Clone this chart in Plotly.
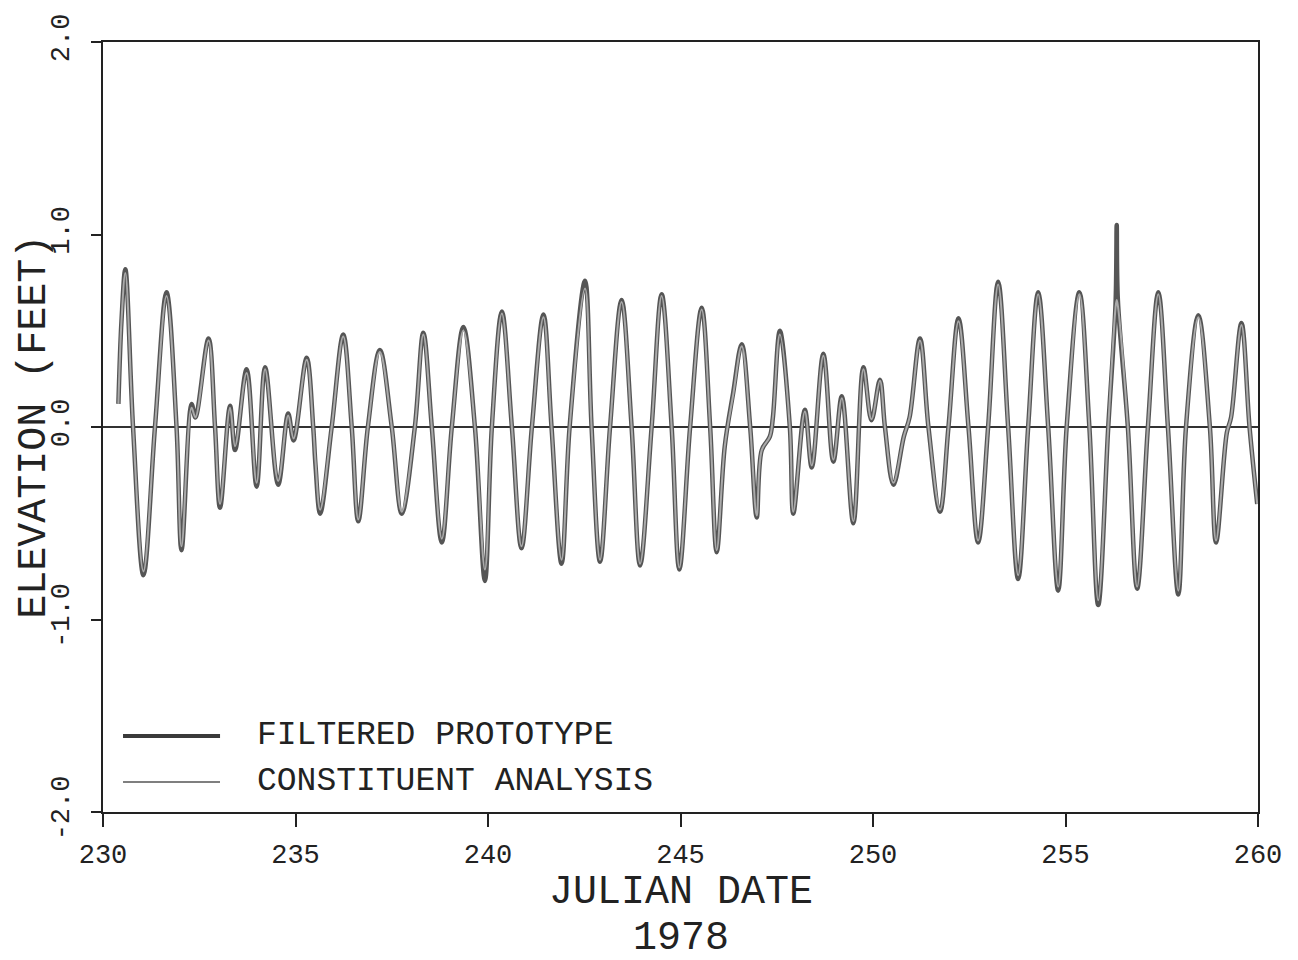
import plotly.graph_objects as go

# julian day (1978) of each turning point / zero crossing
julian_day = [
    230.40, 230.48, 230.58, 230.78, 231.05, 231.35, 231.65, 231.91, 232.04, 232.30,
    232.40, 232.74, 232.91, 233.04, 233.30, 233.43, 233.73, 233.99, 234.21, 234.55,
    234.81, 234.95, 235.29, 235.46, 235.52, 235.64, 235.94, 236.24, 236.46, 236.63,
    236.88, 237.19, 237.50, 237.76, 238.10, 238.32, 238.54, 238.80, 239.06, 239.36,
    239.66, 239.92, 240.10, 240.36, 240.62, 240.87, 241.14, 241.44, 241.65, 241.91,
    242.12, 242.52, 242.69, 242.91, 243.17, 243.47, 243.73, 243.95, 244.25, 244.51,
    244.77, 244.97, 245.25, 245.55, 245.77, 245.94, 246.15, 246.37, 246.59, 246.81,
    246.98, 247.11, 247.32, 247.40, 247.58, 247.84, 247.93, 248.23, 248.41, 248.71,
    248.97, 249.19, 249.49, 249.75, 249.96, 250.18, 250.31, 250.53, 250.80, 250.95,
    251.22, 251.44, 251.74, 251.96, 252.22, 252.48, 252.73, 252.99, 253.25, 253.51,
    253.77, 254.03, 254.29, 254.55, 254.81, 255.03, 255.36, 255.62, 255.85, 256.11,
    256.30, 256.33, 256.36, 256.62, 256.86, 257.14, 257.41, 257.66, 257.93, 258.13,
    258.45, 258.75, 258.91, 259.19, 259.30, 259.57, 259.78, 259.98,
]

filtered_ft = [
    0.12, 0.55, 0.82, 0.00, -0.77, 0.00, 0.70, 0.00, -0.64, 0.12,
    0.05, 0.46, 0.00, -0.42, 0.11, -0.12, 0.30, -0.31, 0.31, -0.30,
    0.07, -0.07, 0.36, 0.00, -0.20, -0.45, 0.00, 0.48, 0.00, -0.49,
    0.00, 0.40, 0.00, -0.45, 0.00, 0.49, 0.00, -0.60, 0.00, 0.52,
    0.00, -0.80, 0.00, 0.60, 0.00, -0.63, 0.00, 0.585, 0.00, -0.71,
    0.00, 0.76, 0.00, -0.70, 0.00, 0.66, 0.00, -0.72, 0.00, 0.69,
    0.00, -0.74, 0.00, 0.62, 0.00, -0.65, -0.10, 0.18, 0.43, 0.00,
    -0.47, -0.12, -0.05, 0.05, 0.50, 0.00, -0.45, 0.09, -0.21, 0.38,
    -0.18, 0.16, -0.50, 0.31, 0.035, 0.245, 0.00, -0.30, -0.05, 0.05,
    0.46, 0.00, -0.44, 0.00, 0.565, 0.00, -0.60, 0.00, 0.755, 0.00,
    -0.79, 0.00, 0.70, 0.00, -0.85, 0.00, 0.70, 0.00, -0.925, 0.00,
    0.64, 1.05, 0.66, 0.00, -0.84, 0.00, 0.70, 0.00, -0.87, 0.00,
    0.58, 0.00, -0.60, -0.03, 0.05, 0.54, 0.00, -0.40,
]

constituent_ft = [
    0.12, 0.55, 0.80, 0.00, -0.75, 0.00, 0.68, 0.00, -0.62, 0.10,
    0.05, 0.45, 0.00, -0.40, 0.10, -0.10, 0.28, -0.29, 0.30, -0.28,
    0.06, -0.06, 0.35, 0.00, -0.18, -0.43, 0.00, 0.47, 0.00, -0.48,
    0.00, 0.39, 0.00, -0.44, 0.00, 0.48, 0.00, -0.58, 0.00, 0.50,
    0.00, -0.74, 0.00, 0.59, 0.00, -0.62, 0.00, 0.57, 0.00, -0.69,
    0.00, 0.72, 0.00, -0.69, 0.00, 0.65, 0.00, -0.71, 0.00, 0.68,
    0.00, -0.73, 0.00, 0.61, 0.00, -0.64, -0.10, 0.17, 0.42, 0.00,
    -0.46, -0.12, -0.05, 0.05, 0.48, 0.00, -0.44, 0.08, -0.20, 0.37,
    -0.17, 0.15, -0.49, 0.30, 0.04, 0.24, 0.00, -0.29, -0.05, 0.05,
    0.45, 0.00, -0.43, 0.00, 0.55, 0.00, -0.59, 0.00, 0.74, 0.00,
    -0.77, 0.00, 0.69, 0.00, -0.83, 0.00, 0.69, 0.00, -0.90, 0.00,
    0.62, 0.66, 0.63, 0.00, -0.83, 0.00, 0.69, 0.00, -0.85, 0.00,
    0.57, 0.00, -0.59, -0.03, 0.05, 0.53, 0.00, -0.40,
]

x_ticks = [230, 235, 240, 245, 250, 255, 260]
y_ticks = [-2.0, -1.0, 0.0, 1.0, 2.0]
y_tick_text = ["-2.0", "-1.0", "0.0", "1.0", "2.0"]
series_names = ["FILTERED PROTOTYPE", "CONSTITUENT ANALYSIS"]

FONT = "Liberation Mono"
INK = "#222222"

fig = go.Figure()
fig.add_trace(go.Scatter(x=julian_day, y=filtered_ft, mode="lines",
                         name=series_names[0],
                         line=dict(color="#555555", width=4.5, shape="spline", smoothing=1.0)))
fig.add_trace(go.Scatter(x=julian_day, y=constituent_ft, mode="lines",
                         name=series_names[1],
                         line=dict(color="#aaaaaa", width=2, shape="spline", smoothing=1.0)))

# hand-drawn style legend in the lower left
legend_y = [-1.605, -1.844]
legend_w = [4, 1.5]
legend_c = ["#3a3a3a", "#555555"]
for name, ly, lw, lc in zip(series_names, legend_y, legend_w, legend_c):
    fig.add_shape(type="line", xref="x", yref="y", x0=230.52, x1=233.04, y0=ly, y1=ly,
                  line=dict(color=lc, width=lw))
    fig.add_annotation(x=233.95, y=ly, xref="x", yref="y", text=name, showarrow=False,
                       xanchor="left", yanchor="middle",
                       font=dict(family=FONT, size=33, color=INK))

fig.add_annotation(x=-0.060, y=0.5, xref="paper", yref="paper", text="ELEVATION (FEET)",
                   textangle=-90, showarrow=False, xanchor="center", yanchor="middle",
                   font=dict(family=FONT, size=40, color=INK))
fig.add_annotation(x=0.5, y=-0.105, xref="paper", yref="paper", text="JULIAN DATE",
                   showarrow=False, xanchor="center", yanchor="middle",
                   font=dict(family=FONT, size=40, color=INK))
fig.add_annotation(x=0.5, y=-0.164, xref="paper", yref="paper", text="1978",
                   showarrow=False, xanchor="center", yanchor="middle",
                   font=dict(family=FONT, size=40, color=INK))

# the page adds an 8px body margin, so the figure is sized to fill the rest of the window
fig.update_layout(
    width=1290, height=952,
    margin=dict(l=95, r=40, t=34, b=148),
    paper_bgcolor="white", plot_bgcolor="white",
    showlegend=False,
    xaxis=dict(range=[230, 260], tickvals=x_ticks, ticks="outside", ticklen=13,
               tickwidth=1.5, tickcolor=INK, showgrid=False, zeroline=False,
               showline=True, linecolor=INK, linewidth=1.5, mirror=True,
               ticklabelstandoff=4, automargin=False,
               tickfont=dict(family=FONT, size=27, color=INK)),
    yaxis=dict(range=[-2, 2], tickvals=y_ticks, ticktext=y_tick_text, tickangle=-90,
               ticks="outside", ticklen=10, tickwidth=1.5, tickcolor=INK,
               showgrid=False, zeroline=True, zerolinecolor="#333333", zerolinewidth=1.5,
               showline=True, linecolor=INK, linewidth=1.5, mirror=True,
               ticklabelstandoff=11, automargin=False,
               tickfont=dict(family=FONT, size=27, color=INK)),
)

fig.write_html("out.html")
